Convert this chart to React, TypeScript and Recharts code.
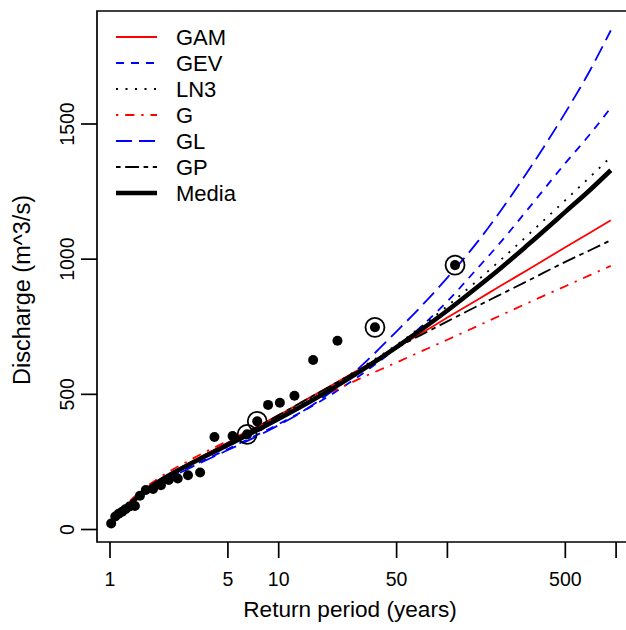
import React from 'react';
import {
  ComposedChart,
  Line,
  Scatter,
  XAxis,
  YAxis,
  ReferenceArea,
  Legend,
  Label,
} from 'recharts';

// return periods (years) at which the fitted curves are drawn
const RETURN_PERIODS = [1.2, 1.5, 2, 3, 5, 7, 10, 15, 20, 30, 50, 70, 100, 150, 200, 300, 500, 700, 930];

// fitted discharge (m^3/s) for each distribution
const GAM = [72, 130, 186, 249, 322, 371, 423, 485, 529, 592, 672, 726, 784, 849, 896, 961, 1044, 1098, 1144];
const GEV = [68, 120, 173, 232, 298, 342, 390, 449, 495, 568, 672, 751, 844, 965, 1052, 1185, 1355, 1462, 1560];
const LN3 = [70, 127, 184, 245, 316, 364, 418, 482, 528, 594, 683, 750, 827, 920, 989, 1089, 1218, 1304, 1378];
const G = [82, 139, 195, 258, 328, 372, 418, 470, 506, 557, 618, 659, 702, 752, 788, 838, 900, 941, 975];
const GL = [66, 118, 171, 229, 294, 337, 386, 450, 505, 598, 733, 826, 932, 1062, 1166, 1325, 1542, 1698, 1846];
const GP = [66, 125, 182, 246, 320, 370, 423, 485, 528, 590, 672, 720, 770, 826, 865, 920, 990, 1033, 1070];
const MEDIA = [71, 127, 182, 243, 313, 359, 410, 470, 515, 583, 675, 739, 810, 896, 959, 1053, 1175, 1256, 1329];

// observed annual maxima (plotting position, discharge)
const OBS_T = [1.016, 1.075, 1.126, 1.18, 1.234, 1.305, 1.405, 1.505, 1.63, 1.8, 2.005, 2.23, 2.52, 2.9, 3.42, 4.16, 5.33, 6.5, 7.46, 8.65, 10.16, 12.4, 16.0, 22.3, 37.2, 111];
const OBS_Q = [22, 48, 58, 66, 75, 85, 87, 125, 146, 150, 164, 183, 189, 201, 211, 342, 346, 352, 400, 461, 469, 495, 627, 698, 748, 978];

// highlighted observations
const MARK_T = [6.5, 7.46, 37.2, 111];
const MARK_Q = [352, 400, 748, 978];

const X_TICKS = [1, 5, 10, 50, 100, 500, 1000];
const X_TICK_LABELS = ['1', '5', '10', '50', '', '500', ''];
const Y_TICKS = [0, 500, 1000, 1500];

const X_DOMAIN = [0.8374, 1209];
const Y_DOMAIN = [-46.2, 1918];

const FONT = '"Liberation Sans", Arial, sans-serif';

const SERIES = [
  { name: 'GAM', values: GAM, color: '#ff0000', dash: undefined, width: 1.8 },
  { name: 'GEV', values: GEV, color: '#0000ff', dash: '8 7', width: 1.8 },
  { name: 'LN3', values: LN3, color: '#000000', dash: '2 7.5', width: 1.8 },
  { name: 'G', values: G, color: '#ff0000', dash: '2.3 6.9 9.2 6.9', width: 1.8 },
  { name: 'GL', values: GL, color: '#0000ff', dash: '16 7', width: 1.8 },
  { name: 'GP', values: GP, color: '#000000', dash: '4.6 4.6 13.8 4.6', width: 1.8 },
  { name: 'Media', values: MEDIA, color: '#000000', dash: undefined, width: 4.6 },
];

const seriesData = SERIES.map(s => ({
  ...s,
  data: RETURN_PERIODS.map((t, i) => ({ t, q: s.values[i] })),
}));

const obsData = OBS_T.map((t, i) => ({ t, q: OBS_Q[i] }));
const markData = MARK_T.map((t, i) => ({ t, q: MARK_Q[i] }));

const XTick = ({ x, y, index }: any) => (
  <text x={x} y={y + 26} textAnchor="middle" fontSize={19.5} fontFamily={FONT} fill="#000">
    {X_TICK_LABELS[index] ?? ''}
  </text>
);

const YTick = ({ x, y, payload }: any) => (
  <text
    x={x - 5}
    y={y}
    transform={`rotate(-90, ${x - 5}, ${y})`}
    textAnchor="middle"
    fontSize={19.5}
    fontFamily={FONT}
    fill="#000"
  >
    {payload.value}
  </text>
);

const LegendBox = () => (
  <svg width={280} height={210} style={{ display: 'block' }}>
    {SERIES.map((s, i) => {
      const y = 37 + i * 26;
      return (
        <g key={s.name}>
          <line x1={116} x2={157} y1={y} y2={y} stroke={s.color} strokeWidth={s.width} strokeDasharray={s.dash} />
          <text x={176} y={y + 8} fontSize={22} fontFamily={FONT} fill="#000">
            {s.name}
          </text>
        </g>
      );
    })}
  </svg>
);

export default function App() {
  return (
    <div style={{ position: 'absolute', left: 0, top: 0, width: 626, height: 630, overflow: 'hidden', background: '#fff' }}>
      <ComposedChart width={630} height={630} margin={{ top: 11, right: 0, bottom: 0, left: 0 }}>
        <XAxis
          dataKey="t"
          type="number"
          scale="log"
          domain={X_DOMAIN}
          allowDataOverflow
          ticks={X_TICKS}
          interval={0}
          height={88}
          tickSize={16}
          axisLine={false}
          tickLine={{ stroke: '#000', strokeWidth: 1.7 }}
          tick={<XTick />}
        >
          <Label
            content={() => (
              <text x={350} y={617} textAnchor="middle" fontSize={22.6} fontFamily={FONT} fill="#000">
                Return period (years)
              </text>
            )}
          />
        </XAxis>
        <YAxis
          dataKey="q"
          type="number"
          domain={Y_DOMAIN}
          allowDataOverflow
          ticks={Y_TICKS}
          interval={0}
          width={97}
          tickSize={16}
          axisLine={false}
          tickLine={{ stroke: '#000', strokeWidth: 1.7 }}
          tick={<YTick />}
        >
          <Label
            content={() => (
              <text
                x={30}
                y={290}
                transform="rotate(-90, 30, 290)"
                textAnchor="middle"
                fontSize={23.5}
                fontFamily={FONT}
                fill="#000"
              >
                Discharge (m^3/s)
              </text>
            )}
          />
        </YAxis>
        <ReferenceArea
          x1={X_DOMAIN[0]}
          x2={X_DOMAIN[1]}
          y1={Y_DOMAIN[0]}
          y2={Y_DOMAIN[1]}
          fill="none"
          stroke="#000"
          strokeWidth={1.7}
          ifOverflow="visible"
        />
        <Scatter
          data={obsData}
          dataKey="q"
          isAnimationActive={false}
          shape={(p: any) => <circle cx={p.cx} cy={p.cy} r={5} fill="#000" />}
        />
        {seriesData.map(s => (
          <Line
            key={s.name}
            data={s.data}
            dataKey="q"
            name={s.name}
            type="monotone"
            stroke={s.color}
            strokeWidth={s.width}
            strokeDasharray={s.dash}
            dot={false}
            activeDot={false}
            isAnimationActive={false}
          />
        ))}
        <Scatter
          data={markData}
          dataKey="q"
          isAnimationActive={false}
          shape={(p: any) => <circle cx={p.cx} cy={p.cy} r={9.5} fill="none" stroke="#000" strokeWidth={1.8} />}
        />
        <Legend
          layout="vertical"
          align="center"
          verticalAlign="middle"
          wrapperStyle={{ position: 'absolute', left: 0, top: 0, width: 280, height: 210 }}
          content={() => <LegendBox />}
        />
      </ComposedChart>
    </div>
  );
}
